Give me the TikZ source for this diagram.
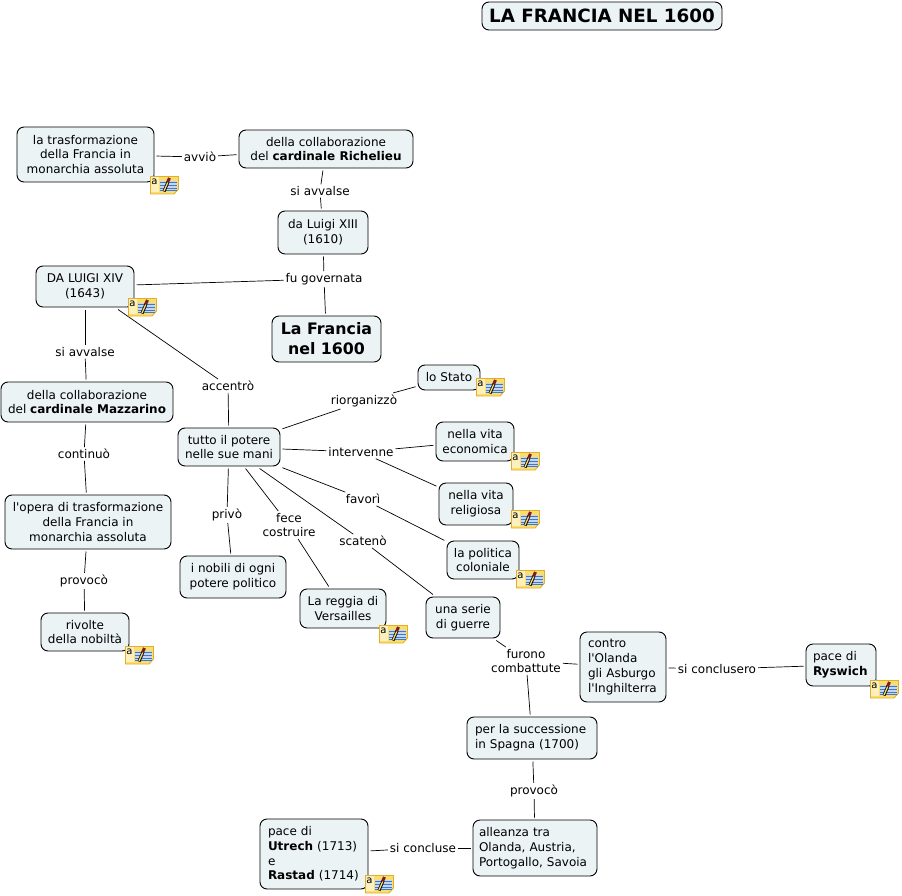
\documentclass[tikz,border=0pt]{standalone}
\usepackage{fontspec}
\setmainfont[Ligatures=TeXOff]{DejaVu Sans}
\usepackage{xcolor}
\usetikzlibrary{positioning}
\definecolor{ConceptFill}{HTML}{ECF3F5}
\definecolor{NoteFill}{HTML}{FBDD6B}
\definecolor{NoteEdge}{HTML}{E3AE2B}
\definecolor{NoteBlue}{HTML}{3F78C8}
\definecolor{NotePencil}{HTML}{7A1F1F}
\tikzset{
  pics/noteicon/.style={code={
    \draw[NoteEdge,fill=NoteFill,line width=0.9pt] (0.5,0.5) -- (28.5,0.5) -- (28.5,13) -- (24,18) -- (0.5,18) -- cycle;
    \fill[NoteFill!45!white] (1,1) rectangle (9,16);
    \node[inner sep=0pt,font=\fontsize{10}{10}\selectfont] (-a) at (4.5,6) {a};
    \fill[white!70!NoteBlue] (10,5) rectangle (27,14.5);
    \foreach \ly in {6,9,12,14.5} {\draw[NoteBlue,line width=0.8pt] (10,\ly) -- (27,\ly);}
    \draw[black,line width=3pt] (14,15.5) -- (18,6);
    \draw[NoteFill,line width=1.3pt] (14,15) -- (18,6);
    \draw[NotePencil,line width=3pt] (17.5,6.5) -- (19.5,2);
  }}
}
\begin{document}
\begin{tikzpicture}[x=1pt,y=-1pt,
  font=\fontsize{12}{14.7}\selectfont,
  concept/.style={draw=black,line width=0.9pt,fill=ConceptFill,rounded corners=7pt,
                  align=center,inner sep=0pt,outer sep=2.5pt},
  linkword/.style={align=center,inner sep=1pt,outer sep=1pt,fill=white,yshift=-1pt},
  k/.style={line width=0.7pt,black},
]
\useasboundingbox (0,0) rectangle (902,896);
\node[concept,minimum width=240pt,minimum height=28pt,font=\fontsize{18.3}{20}\selectfont\bfseries] (title) at (602,16) {LA FRANCIA NEL 1600};

\node[concept,minimum width=137pt,minimum height=55pt] (trasf) at (85.5,154.5) {la trasformazione\\ della Francia in\\monarchia assoluta};
\node[concept,minimum width=174pt,minimum height=38pt] (rich) at (326,149) {della collaborazione\\del \textbf{cardinale Richelieu}};
\node[concept,minimum width=90pt,minimum height=43pt] (xiii) at (323,232.5) {da Luigi XIII\\(1610)};
\node[concept,minimum width=98pt,minimum height=41pt] (xiv) at (85,286.5) {DA LUIGI XIV\\(1643)};
\node[concept,minimum width=109pt,minimum height=46pt,font=\fontsize{15.8}{20}\selectfont\bfseries] (francia) at (326.5,339) {La Francia\\ nel 1600};
\node[concept,minimum width=172pt,minimum height=40pt] (mazz) at (87,402) {della collaborazione\\del \textbf{cardinale Mazzarino}};
\node[concept,minimum width=102pt,minimum height=38pt] (tutto) at (229,447) {tutto il potere\\nelle sue mani};
\node[concept,minimum width=62pt,minimum height=25pt] (stato) at (449,377.5) {lo Stato};
\node[concept,minimum width=78pt,minimum height=39pt] (econ) at (475,441.5) {nella vita\\economica};
\node[concept,minimum width=74pt,minimum height=42pt] (relig) at (476,504) {nella vita\\ religiosa};
\node[concept,minimum width=72pt,minimum height=38pt] (colon) at (483,560) {la politica\\coloniale};
\node[concept,minimum width=74pt,minimum height=41pt] (guerre) at (463,617.5) {una serie\\ di guerre};
\node[concept,minimum width=106pt,minimum height=42pt] (nobili) at (233,577) {i nobili di ogni\\ potere politico};
\node[concept,minimum width=86pt,minimum height=39pt] (reggia) at (343,608.5) {La reggia di\\Versailles};
\node[concept,minimum width=166pt,minimum height=54pt] (opera) at (88,522) {l'opera di trasformazione\\della Francia in\\monarchia assoluta};
\node[concept,minimum width=88pt,minimum height=38pt] (rivolte) at (85,632) {rivolte\\della nobiltà};
\node[concept,minimum width=86pt,minimum height=70pt,align=left,text width=70pt] (contro) at (623,667) {contro\\l'Olanda\\gli Asburgo\\l'Inghilterra};
\node[concept,minimum width=70pt,minimum height=42pt,align=left,text width=56pt] (rysw) at (841,665) {pace di\\\textbf{Ryswich}};
\node[concept,minimum width=130pt,minimum height=42pt,align=left,text width=114pt] (succ) at (532,738) {per la successione\\in Spagna (1700)};
\node[concept,minimum width=124pt,minimum height=56pt,align=left,text width=112pt] (allean) at (535,848) {alleanza tra\\Olanda, Austria,\\Portogallo, Savoia};
\node[concept,minimum width=108pt,minimum height=70pt,align=left,text width=92pt] (pace) at (314,854) {pace di\\\textbf{Utrech} (1713)\\e\\\textbf{Rastad} (1714)};

\node[linkword] (avvio) at (200,156) {avviò};
\node[linkword] (avvalse1) at (320,190) {si avvalse};
\node[linkword] (govern) at (324,278) {fu governata};
\node[linkword] (avvalse2) at (85,351) {si avvalse};
\node[linkword] (accentro) at (228,385) {accentrò};
\node[linkword] (riorg) at (364,400) {riorganizzò};
\node[linkword] (interv) at (361,451) {intervenne};
\node[linkword] (favori) at (363,498) {favorì};
\node[linkword] (privo) at (227,514) {privò};
\node[linkword] (fece) at (289,524) {fece\\costruire};
\node[linkword] (scateno) at (363,540) {scatenò};
\node[linkword] (continuo) at (84,453) {continuò};
\node[linkword] (provoco1) at (84,580) {provocò};
\node[linkword] (furono) at (526,660) {furono\\combattute};
\node[linkword] (conclus) at (717,668) {si conclusero};
\node[linkword] (provoco2) at (534,790) {provocò};
\node[linkword] (conclude) at (423,847) {si concluse};

\draw[k] (rich) -- (avvio);
\draw[k] (avvio) -- (trasf);
\draw[k] (xiii) -- (avvalse1);
\draw[k] (avvalse1) -- (rich);
\draw[k] (francia) -- (govern);
\draw[k] (govern) -- (xiv);
\draw[k] (govern) -- (xiii);
\draw[k] (xiv) -- (avvalse2);
\draw[k] (avvalse2) -- (mazz);
\draw[k] (xiv) -- (accentro);
\draw[k] (accentro) -- (tutto);
\draw[k] (mazz) -- (continuo);
\draw[k] (continuo) -- (opera);
\draw[k] (opera) -- (provoco1);
\draw[k] (provoco1) -- (rivolte);
\draw[k] (tutto) -- (riorg);
\draw[k] (riorg) -- (stato);
\draw[k] (tutto) -- (interv);
\draw[k] (interv) -- (econ);
\draw[k] (interv) -- (relig);
\draw[k] (tutto) -- (favori);
\draw[k] (favori) -- (colon);
\draw[k] (tutto) -- (privo);
\draw[k] (privo) -- (nobili);
\draw[k] (tutto) -- (fece);
\draw[k] (fece) -- (reggia);
\draw[k] (tutto) -- (scateno);
\draw[k] (scateno) -- (guerre);
\draw[k] (guerre) -- (furono);
\draw[k] (furono) -- (contro);
\draw[k] (furono) -- (succ);
\draw[k] (contro) -- (conclus);
\draw[k] (conclus) -- (rysw);
\draw[k] (succ) -- (provoco2);
\draw[k] (provoco2) -- (allean);
\draw[k] (allean) -- (conclude);
\draw[k] (conclude) -- (pace);

\pic (n1) at (150,176) {noteicon};
\pic (n2) at (128,298) {noteicon};
\pic (n3) at (476,378) {noteicon};
\pic (n4) at (511,452) {noteicon};
\pic (n5) at (511,510) {noteicon};
\pic (n6) at (516,570) {noteicon};
\pic (n7) at (379,625) {noteicon};
\pic (n8) at (125,646) {noteicon};
\pic (n9) at (870,680) {noteicon};
\pic (n10) at (365,875) {noteicon};
\end{tikzpicture}
\end{document}
